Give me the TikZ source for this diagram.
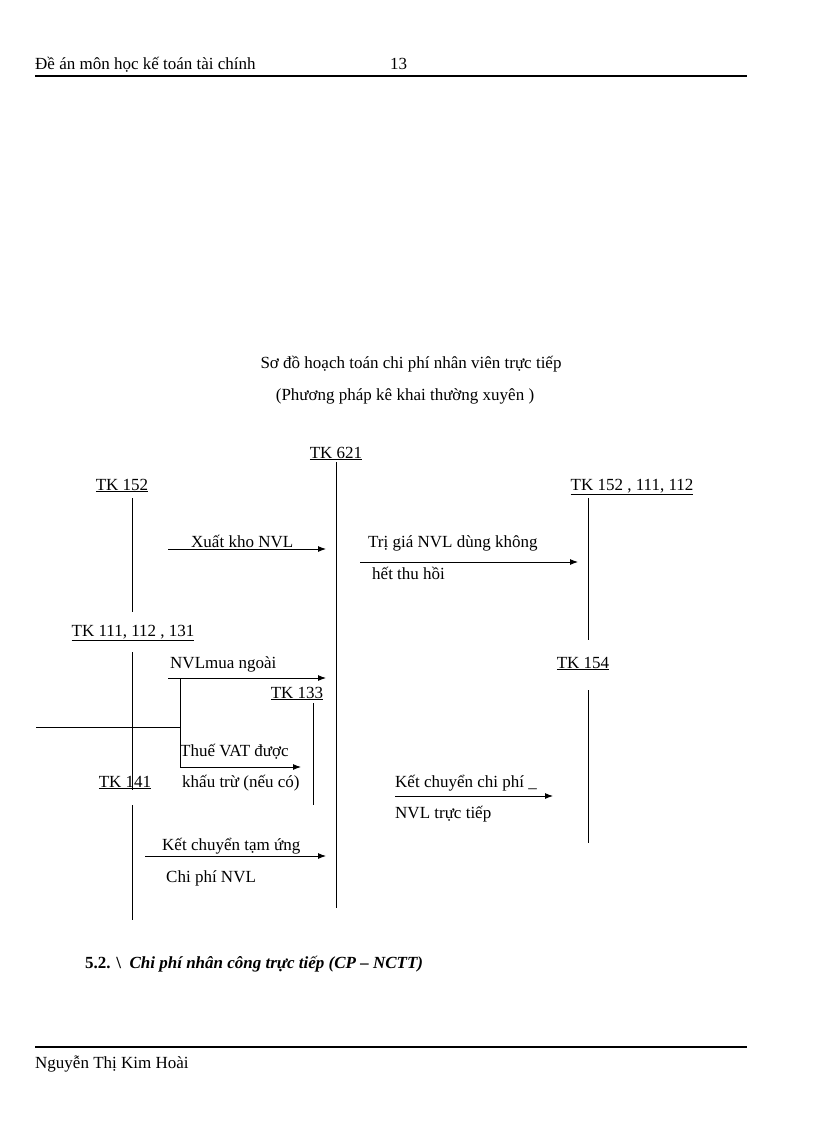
\documentclass[tikz,border=0pt]{standalone}
\usepackage{fontspec}
\setmainfont{Liberation Serif}
\usetikzlibrary{arrows.meta}
\begin{document}
\begin{tikzpicture}[x=1pt,y=-1pt,
  txt/.style={inner sep=0pt,anchor=base west,font=\fontsize{17}{20}\selectfont},
  tk/.style={txt,anchor=base},
  ln/.style={line width=0.9pt},
  arr/.style={line width=0.9pt,-{Latex[length=8pt,width=6pt]}}]
\useasboundingbox (0,0) rectangle (816,1123);
% header/footer
\node[txt] (h1) at (35,70) {Đề án môn học kế toán tài chính};
\node[txt] (h2) at (390,70) {13};
\draw[line width=1.8pt] (35,76) -- (747,76);
\draw[line width=1.8pt] (35,1047) -- (747,1047);
\node[txt] (f1) at (35,1068) {Nguyễn Thị Kim Hoài};
% title
\node[tk] (t1) at (411,368) {Sơ đồ hoạch toán chi phí nhân viên trực tiếp};
\node[tk] (t2) at (405,400) {(Phương pháp kê khai thường xuyên )};
% accounts
\node[tk] (a621) at (336,458) {\underline{TK 621}};
\node[tk] (a152) at (122,490) {\underline{TK 152}};
\node[tk] (ar) at (632,490) {\underline{TK 152 , 111, 112}};
\node[tk] (a111) at (133,636) {\underline{TK 111, 112 , 131}};
\node[tk] (a133) at (297,698) {\underline{TK 133}};
\node[tk] (a154) at (583,668) {\underline{TK 154}};
\node[tk] (a141) at (125,787) {\underline{TK 141}};
% vertical T lines
\coordinate (v621a) at (336,462); \coordinate (v621b) at (336,908);
\coordinate (v152a) at (132,498); \coordinate (v152b) at (132,612);
\coordinate (vra) at (588,498); \coordinate (vrb) at (588,640);
\coordinate (v111a) at (132,652); \coordinate (v111b) at (132,790);
\coordinate (v133a) at (313,703); \coordinate (v133b) at (313,805);
\coordinate (v154a) at (588,690); \coordinate (v154b) at (588,843);
\coordinate (v141a) at (132,805); \coordinate (v141b) at (132,920);
\foreach \p in {621,152,r,111,133,154,141} \draw[ln] (v\p a) -- (v\p b);
% arrows
\node[txt] (l1) at (191,547) {Xuất kho NVL};
\coordinate (s1) at (168,549); \coordinate (e1) at (326,549);
\draw[arr] (s1) -- (e1);
\node[txt] (l2) at (368,547) {Trị giá NVL dùng không};
\node[txt] (l2b) at (372,579) {hết thu hồi};
\coordinate (s2) at (360,562); \coordinate (e2) at (578,562);
\draw[arr] (s2) -- (e2);
\node[txt] (l3) at (170,668) {NVLmua ngoài};
\coordinate (s3) at (168,678); \coordinate (e3) at (326,678);
\draw[arr] (s3) -- (e3);
\coordinate (b1) at (180,678); \coordinate (b2) at (180,767);
\coordinate (hl) at (36,727); \coordinate (hr) at (180,727);
\coordinate (e4) at (301,767);
\draw[ln] (b1) -- (b2);
\draw[ln] (hl) -- (hr);
\draw[arr] (b2) -- (e4);
\node[txt] (l4) at (180,756) {Thuế VAT được};
\node[txt] (l4b) at (182,787) {khấu trừ (nếu có)};
\node[txt] (l5) at (395,787) {Kết chuyển chi phí \_};
\node[txt] (l5b) at (395,818) {NVL trực tiếp};
\coordinate (s5) at (395,796); \coordinate (e5) at (553,796);
\draw[arr] (s5) -- (e5);
\node[txt] (l6) at (162,850) {Kết chuyển tạm ứng};
\node[txt] (l6b) at (166,882) {Chi phí NVL};
\coordinate (s6) at (145,856); \coordinate (e6) at (326,856);
\draw[arr] (s6) -- (e6);
% section
\node[txt] (sec) at (85,968) {\textbf{5.2. \textbackslash\ \ \textit{Chi phí nhân công trực tiếp (CP – NCTT)}}};
\end{tikzpicture}
\end{document}
